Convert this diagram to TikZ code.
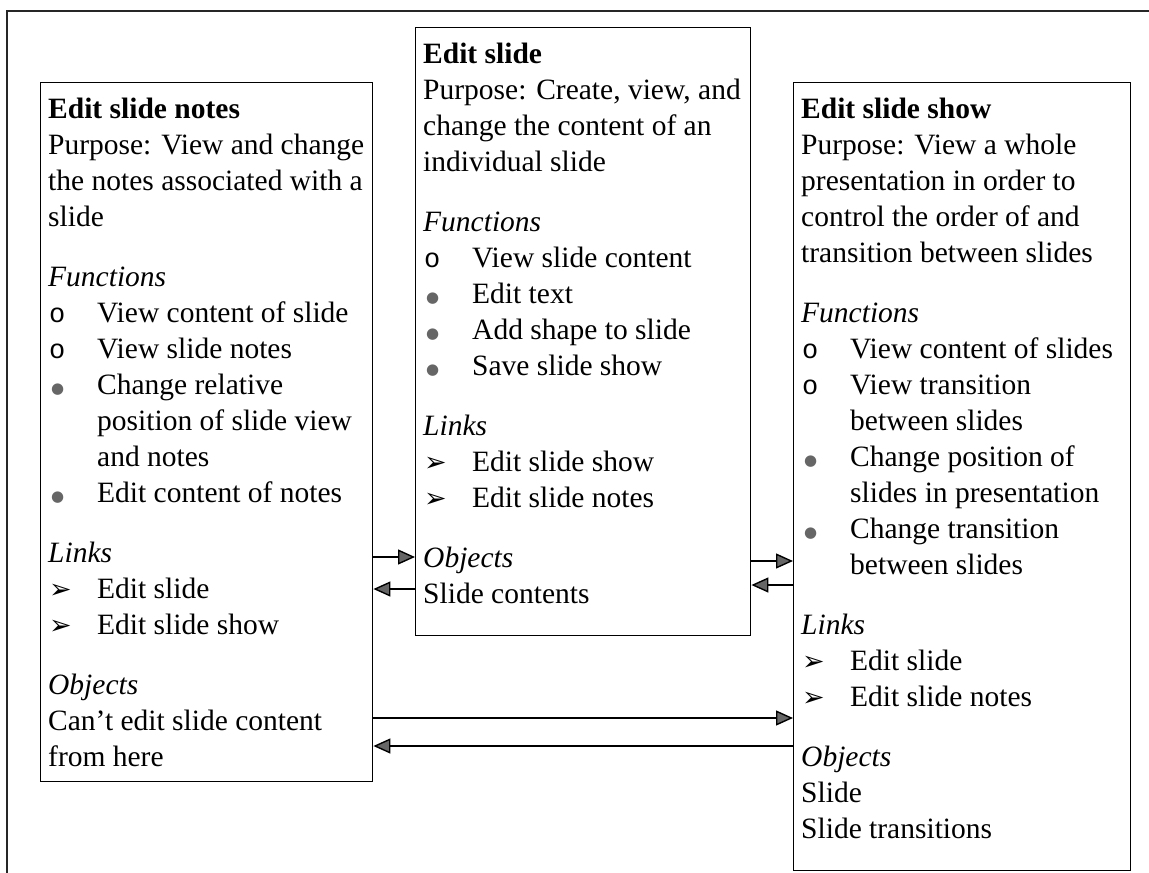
\documentclass[tikz,border=0pt]{standalone}
\usepackage{fontspec}
\setmainfont{Liberation Serif}
\newfontfamily\symfamily{DejaVu Sans}
\newfontfamily\monofamily{Liberation Mono}
\usetikzlibrary{arrows.meta}

% list markers with a fixed hanging indent
\newlength{\hang}\setlength{\hang}{49pt}
\newlength{\gap}\setlength{\gap}{24pt}
\newcommand{\ob}{\makebox[\hang][l]{\hspace{1pt}{\monofamily\fontsize{27}{27}\selectfont o}}}
\newcommand{\fb}{\makebox[\hang][l]{\hspace{3pt}\raisebox{1pt}{\textcolor{black!60}{\symfamily\fontsize{15}{15}\selectfont ●}}}}
\newcommand{\ab}{\makebox[\hang][l]{\hspace{1pt}{\symfamily\fontsize{27}{27}\selectfont ➢}}}
\newcommand{\ind}{\hspace*{\hang}}

\tikzset{
  panel/.style={draw=black, line width=1.4pt, inner sep=0pt, anchor=north west},
  paneltext/.style={inner sep=0pt, anchor=north west, align=left,
    font=\fontsize{29.5}{36}\selectfont},
  frame/.style={draw=black!85, line width=1.4pt},
  link/.style={draw=black, line width=1.4pt,
    -{Triangle[length=17pt,width=15pt,fill=black!60]}}
}

\begin{document}
\begin{tikzpicture}[x=1pt,y=-1pt]
\useasboundingbox (0,0) rectangle (1149,873);

% surrounding frame (top and left edges)
\draw[frame] (1149,11) -- (7,11) -- (7,873);

% panels
\node[panel, minimum width=332pt, minimum height=699pt] (notes) at (40,82) {};
\node[panel, minimum width=335pt, minimum height=608pt] (slide) at (415,27) {};
\node[panel, minimum width=337pt, minimum height=788pt] (show) at (793,82) {};

\node[paneltext] (notestxt) at (48,98) {%
\textbf{Edit slide notes}\\
Purpose: View and change\\
the notes associated with a\\
slide\\[\gap]
\textit{Functions}\\
\ob View content of slide\\
\ob View slide notes\\
\fb Change relative\\
\ind position of slide view\\
\ind and notes\\
\fb Edit content of notes\\[\gap]
\textit{Links}\\
\ab Edit slide\\
\ab Edit slide show\\[\gap]
\textit{Objects}\\
Can’t edit slide content\\
from here};

\node[paneltext] (slidetxt) at (423,43) {%
\textbf{Edit slide}\\
Purpose: Create, view, and\\
change the content of an\\
individual slide\\[\gap]
\textit{Functions}\\
\ob View slide content\\
\fb Edit text\\
\fb Add shape to slide\\
\fb Save slide show\\[\gap]
\textit{Links}\\
\ab Edit slide show\\
\ab Edit slide notes\\[\gap]
\textit{Objects}\\
Slide contents};

\node[paneltext] (showtxt) at (801,98) {%
\textbf{Edit slide show}\\
Purpose: View a whole\\
presentation in order to\\
control the order of and\\
transition between slides\\[\gap]
\textit{Functions}\\
\ob View content of slides\\
\ob View transition\\
\ind between slides\\
\fb Change position of\\
\ind slides in presentation\\
\fb Change transition\\
\ind between slides\\[\gap]
\textit{Links}\\
\ab Edit slide\\
\ab Edit slide notes\\[\gap]
\textit{Objects}\\
Slide\\
Slide transitions};

% heights of the connectors
\coordinate (ya) at (0,557);
\coordinate (yb) at (0,589);
\coordinate (yc) at (0,561);
\coordinate (yd) at (0,585);
\coordinate (ye) at (0,718);
\coordinate (yf) at (0,746);

\draw[link] (notes.east |- ya) -- (slide.west |- ya);
\draw[link] (slide.west |- yb) -- (notes.east |- yb);
\draw[link] (slide.east |- yc) -- (show.west |- yc);
\draw[link] (show.west |- yd) -- (slide.east |- yd);
\draw[link] (notes.east |- ye) -- (show.west |- ye);
\draw[link] (show.west |- yf) -- (notes.east |- yf);
\end{tikzpicture}
\end{document}
